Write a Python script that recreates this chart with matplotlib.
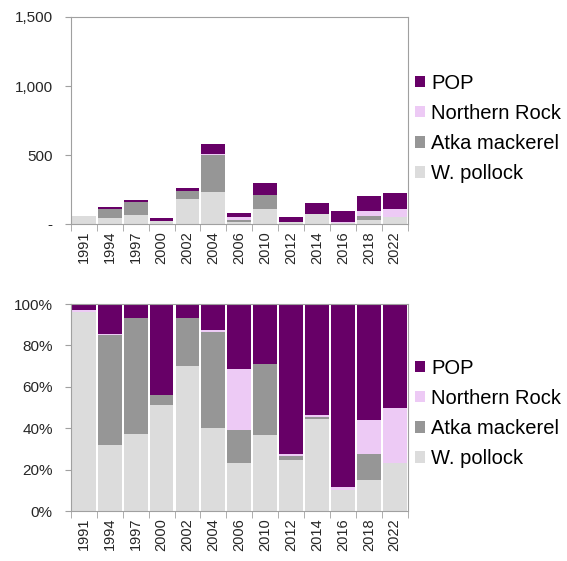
import numpy as np
import matplotlib.pyplot as plt

plt.rcParams['font.family'] = ['Liberation Sans', 'DejaVu Sans']

years = ['1991', '1994', '1997', '2000', '2002', '2004', '2006',
         '2010', '2012', '2014', '2016', '2018', '2022']

# catch by species (t)
pollock = np.array([55, 40, 65, 22, 181, 233, 18, 110, 13, 69, 10, 31, 52])
atka = np.array([0, 67, 97, 2, 60, 270, 12, 103, 1, 1.5, 0, 26, 0])
northern = np.array([0.6, 0.5, 0, 0, 0, 5, 23, 0, 0.5, 1.2, 1.5, 34, 58])
pop = np.array([1.7, 18.5, 12, 19, 17, 74, 24, 87, 38.5, 83, 86, 115, 112])

names = ['W. pollock', 'Atka mackerel', 'Northern Rock', 'POP']
colors = ['#dcdcdc', '#969696', '#edcaf5', '#670067']
series = [pollock, atka, northern, pop]

total = pollock + atka + northern + pop
pct = [s / total * 100 for s in series]

fig = plt.figure(figsize=(5.67, 5.61), dpi=100)
ax1 = fig.add_axes([0.125, 0.6007, 0.594, 0.369])
ax2 = fig.add_axes([0.125, 0.0891, 0.594, 0.369])

x = np.arange(len(years))

def draw(ax, data):
    bottom = np.zeros(len(years))
    for s, c, n in zip(data, colors, names):
        ax.bar(x, s, 0.92, bottom=bottom, color=c, label=n, linewidth=0)
        bottom = bottom + s
    ax.set_xlim(-0.5, len(years) - 0.5)
    ax.set_xticks(x)
    ax.set_xticklabels(years, rotation=90)
    ax.set_xticks(np.arange(-0.5, len(years)), minor=True)
    ax.tick_params(axis='x', which='major', length=0, pad=5, labelsize=10.5, labelcolor='#262626')
    ax.tick_params(axis='x', which='minor', length=5, color='#a0a0a0')
    ax.tick_params(axis='y', length=4, pad=9, color='#a0a0a0', labelsize=11, labelcolor='#262626')
    for sp in ax.spines.values():
        sp.set_color('#a0a0a0')
    h, l = ax.get_legend_handles_labels()
    return h[::-1], l[::-1]

leg_kw = dict(loc='center left', frameon=False, fontsize=14.5, handlelength=0.5,
              handleheight=0.5, handletextpad=0.3, labelspacing=0.56, borderaxespad=0,
              borderpad=0)

h, l = draw(ax1, series)
ax1.set_ylim(0, 1500)
ax1.set_yticks([0, 500, 1000, 1500])
ax1.set_yticklabels(['-', '500', '1,000', '1,500'])
fig.legend(h, l, bbox_to_anchor=(0.732, 0.771), **leg_kw)

h, l = draw(ax2, pct)
ax2.set_ylim(0, 100)
ax2.set_yticks([0, 20, 40, 60, 80, 100])
ax2.set_yticklabels(['0%', '20%', '40%', '60%', '80%', '100%'])
fig.legend(h, l, bbox_to_anchor=(0.732, 0.263), **leg_kw)

fig.savefig('out.png', dpi=100)
